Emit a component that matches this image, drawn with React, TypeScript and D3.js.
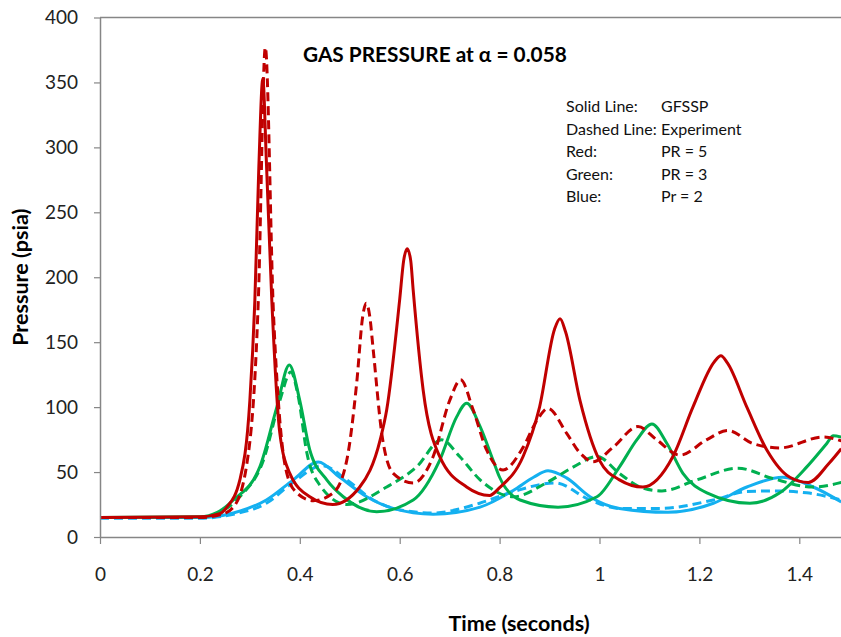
import React, { useEffect, useRef } from 'react';
import * as d3 from 'd3';

// time (s), pressure (psia)
const xTicks = [0, 0.2, 0.4, 0.6, 0.8, 1, 1.2, 1.4];
const yTicks = [0, 50, 100, 150, 200, 250, 300, 350, 400];

const redGfssp: [number, number][] = [
  [0, 15], [0.2, 15.5], [0.24, 18], [0.254, 23], [0.28, 44], [0.3, 105], [0.31, 182], [0.318, 285],
  [0.326, 353], [0.333, 290], [0.344, 182], [0.36, 80], [0.38, 49], [0.42, 31], [0.466, 25],
  [0.52, 38.5], [0.561, 75], [0.574, 98], [0.6, 183], [0.608, 213], [0.615, 222], [0.622, 213],
  [0.627, 190], [0.647, 113], [0.68, 62], [0.734, 38.5], [0.78, 32], [0.8, 38], [0.847, 62],
  [0.88, 100], [0.91, 160], [0.921, 168], [0.932, 158], [0.961, 105], [1.0, 59], [1.04, 44],
  [1.087, 38.5], [1.147, 62], [1.187, 100], [1.23, 135], [1.243, 139.5], [1.256, 134],
  [1.295, 100], [1.335, 67], [1.381, 46], [1.418, 42], [1.46, 57], [1.484, 68],
];

const redExperiment: [number, number][] = [
  [0, 15], [0.2, 15], [0.24, 17], [0.267, 23], [0.293, 54], [0.317, 183], [0.331, 377],
  [0.347, 175], [0.357, 105], [0.374, 49], [0.394, 34], [0.427, 28], [0.467, 34], [0.494, 59],
  [0.514, 119], [0.526, 170], [0.533, 180], [0.54, 170], [0.547, 144], [0.564, 80], [0.587, 49],
  [0.627, 41.6], [0.667, 62], [0.7, 105], [0.722, 121], [0.747, 98], [0.774, 67], [0.807, 51.6],
  [0.847, 69], [0.875, 90], [0.897, 99], [0.934, 80], [0.961, 64.7], [0.987, 58], [1.027, 69],
  [1.077, 85], [1.114, 75], [1.161, 63], [1.215, 75], [1.257, 82], [1.307, 72], [1.361, 68.6],
  [1.448, 77], [1.484, 74],
];

const greenGfssp: [number, number][] = [
  [0, 15], [0.2, 15.5], [0.235, 19], [0.267, 28.5], [0.32, 54], [0.354, 100], [0.379, 132.5],
  [0.4, 105], [0.42, 67], [0.454, 44], [0.487, 31], [0.554, 19.5], [0.627, 28.5], [0.68, 59],
  [0.714, 92.5], [0.734, 103], [0.761, 85], [0.787, 59], [0.8, 46], [0.841, 28.5], [0.917, 23],
  [0.995, 31], [1.04, 54], [1.075, 75], [1.105, 87], [1.135, 72], [1.167, 49], [1.215, 34],
  [1.301, 26], [1.361, 34], [1.415, 54], [1.455, 72], [1.468, 78], [1.484, 77],
];

const greenExperiment: [number, number][] = [
  [0, 15], [0.2, 15], [0.24, 19], [0.28, 31], [0.327, 59], [0.36, 105], [0.382, 127],
  [0.397, 108], [0.414, 65], [0.44, 40], [0.494, 25], [0.574, 38.5], [0.634, 54], [0.684, 74.8],
  [0.72, 62], [0.761, 44], [0.828, 31], [0.895, 42], [0.948, 54], [0.995, 62], [1.04, 49],
  [1.081, 38.5], [1.125, 35.5], [1.195, 44], [1.277, 53], [1.347, 45], [1.427, 38.5], [1.484, 42],
];

const blueGfssp: [number, number][] = [
  [0, 15], [0.2, 15], [0.267, 18.5], [0.333, 28.5], [0.387, 44], [0.437, 57.8], [0.48, 46],
  [0.534, 31], [0.587, 22], [0.667, 17.5], [0.761, 23], [0.828, 36], [0.868, 46], [0.897, 51],
  [0.934, 45.5], [0.981, 31], [1.04, 22], [1.137, 19], [1.228, 26], [1.295, 38.5], [1.367, 46],
  [1.428, 38.5], [1.484, 27],
];

const blueExperiment: [number, number][] = [
  [0, 14.5], [0.2, 14.5], [0.267, 17.5], [0.333, 26], [0.393, 44], [0.445, 55], [0.494, 44],
  [0.547, 28.5], [0.6, 21], [0.667, 18.5], [0.76, 26], [0.828, 35], [0.911, 41.6], [0.981, 28.5],
  [1.04, 22], [1.121, 22], [1.228, 28.5], [1.295, 35], [1.351, 35.5], [1.415, 34], [1.484, 28.5],
];

const legendLabels = ['Solid Line:', 'Dashed Line:', 'Red:', 'Green:', 'Blue:'];
const legendValues = ['GFSSP', 'Experiment', 'PR = 5', 'PR = 3', 'Pr = 2'];

const RED = '#C00000';
const GREEN = '#00B050';
const BLUE = '#14B0F0';
const AXIS = '#868686';
const FONT = 'Lato, "Open Sans", sans-serif';

export default function App() {
  const ref = useRef<SVGSVGElement | null>(null);

  useEffect(() => {
    const width = 841;
    const left = 100;
    const top = 17.5;
    const bottom = 537;

    const svg = d3.select(ref.current);
    svg.selectAll('*').remove();

    const x = d3.scaleLinear().domain([0, 1.5]).range([left, left + 1.5 * 499.5]);
    const y = d3.scaleLinear().domain([0, 400]).range([bottom, top]);

    // plot frame (top border, chart is cut at the right)
    svg.append('line')
      .attr('x1', left).attr('x2', width)
      .attr('y1', top).attr('y2', top)
      .attr('stroke', AXIS).attr('stroke-width', 1.5);

    const series = [
      { data: blueExperiment, color: BLUE, dash: '9,5' },
      { data: blueGfssp, color: BLUE, dash: null },
      { data: greenExperiment, color: GREEN, dash: '9,5' },
      { data: greenGfssp, color: GREEN, dash: null },
      { data: redExperiment, color: RED, dash: '9,5' },
      { data: redGfssp, color: RED, dash: null },
    ];

    const line = d3.line<[number, number]>()
      .x(d => x(d[0]))
      .y(d => y(d[1]))
      .curve(d3.curveMonotoneX);

    const g = svg.append('g');
    series.forEach(s => {
      g.append('path')
        .attr('d', line(s.data))
        .attr('fill', 'none')
        .attr('stroke', s.color)
        .attr('stroke-width', 3)
        .attr('stroke-linejoin', 'round')
        .attr('stroke-dasharray', s.dash);
    });

    const xAxis = svg.append('g')
      .attr('transform', `translate(0,${bottom})`)
      .call(d3.axisBottom(x).tickValues(xTicks).tickFormat(d3.format('')).tickSize(7).tickSizeOuter(0).tickPadding(24));
    xAxis.select('.domain').attr('stroke', AXIS).attr('stroke-width', 1.5);
    xAxis.selectAll('.tick line').attr('stroke', AXIS).attr('stroke-width', 1.2);
    xAxis.selectAll('text').style('font-family', FONT).style('font-size', '19px').attr('fill', '#222');

    const yAxis = svg.append('g')
      .attr('transform', `translate(${left},0)`)
      .call(d3.axisLeft(y).tickValues(yTicks).tickSize(6).tickSizeOuter(0).tickPadding(16));
    yAxis.select('.domain').attr('stroke', AXIS).attr('stroke-width', 1.5);
    yAxis.selectAll('.tick line').attr('stroke', AXIS).attr('stroke-width', 1.2);
    yAxis.selectAll('text').style('font-family', FONT).style('font-size', '19px').attr('fill', '#222');

    // axis titles
    svg.append('text')
      .attr('x', 519).attr('y', 631)
      .attr('text-anchor', 'middle')
      .style('font-family', FONT).style('font-size', '21.5px').style('font-weight', 'bold')
      .text('Time (seconds)');
    svg.append('text')
      .attr('transform', `translate(28,${(top + bottom) / 2}) rotate(-90)`)
      .attr('text-anchor', 'middle')
      .style('font-family', FONT).style('font-size', '21.5px').style('font-weight', 'bold')
      .text('Pressure (psia)');

    // chart title
    svg.append('text')
      .attr('x', 303).attr('y', 62)
      .style('font-family', FONT).style('font-size', '20.8px').style('font-weight', 'bold')
      .text('GAS PRESSURE at α = 0.058');

    // legend note
    const note = svg.append('g').style('font-family', FONT).style('font-size', '16px').attr('fill', '#111');
    legendLabels.forEach((lab, i) => {
      note.append('text').attr('x', 566).attr('y', 112 + i * 22.5).text(lab);
      note.append('text').attr('x', 661).attr('y', 112 + i * 22.5).text(legendValues[i]);
    });
  }, []);

  return (
    <svg
      ref={ref}
      width={841}
      height={637}
      style={{ position: 'absolute', left: 0, top: 0, background: '#fff' }}
    />
  );
}
